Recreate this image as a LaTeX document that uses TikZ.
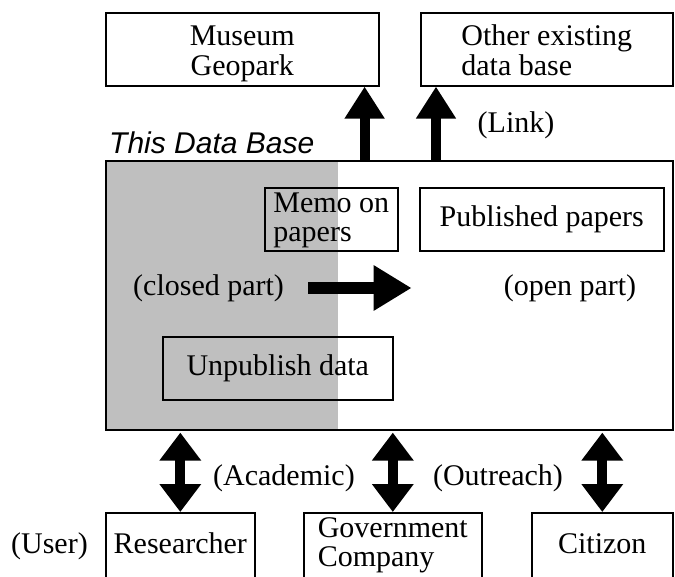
\documentclass[tikz,border=0pt]{standalone}
\usepackage{fontspec}
\setmainfont{Liberation Serif}
\newfontfamily\headfont{Liberation Sans}
\usetikzlibrary{arrows.meta}

\begin{document}
\begin{tikzpicture}[x=1pt,y=-1pt,
	font=\fontsize{30}{29}\selectfont,
	box/.style={draw,line width=1.6pt,inner sep=0pt},
	linkarrow/.style={line width=10pt,-{Triangle[length=32pt,width=38pt]}},
	usearrow/.style={line width=10pt,{Triangle[length=28pt,width=40pt]}-{Triangle[length=28pt,width=40pt]}},
	openarrow/.style={line width=12pt,-{Triangle[length=38pt,width=43pt]}}]
	\useasboundingbox (0,0) rectangle (675,576);
	\clip (0,0) rectangle (675,576);
	\node[box,minimum width=273pt,text height=33pt,text depth=40pt,anchor=north west] (museum) at (105,12) {\begin{tabular}[t]{@{}c@{}}Museum\\Geopark\end{tabular}};
	\node[box,minimum width=252pt,text height=33pt,text depth=40pt,anchor=north west] (other) at (420,12) {\begin{tabular}[t]{@{}l@{}}Other existing\\data base\end{tabular}};
	\fill[black!25] (105,160) rectangle (338,429);
	\node[box,minimum width=567pt,minimum height=269pt,anchor=north west] (db) at (105,160) {};
	\node[anchor=base west,inner sep=0pt,font=\fontsize{30}{29}\headfont\itshape] (dbname) at (109,153) {This Data Base};
	\node[box,minimum width=133pt,text height=25pt,text depth=38pt,anchor=north west] (memo) at (264,187) {\begin{tabular}[t]{@{}l@{}}Memo on\\papers\end{tabular}};
	\node[box,minimum width=244pt,minimum height=63pt,anchor=north west] (published) at (419,187) {Published papers};
	\node[box,minimum width=230pt,minimum height=63pt,anchor=north west] (unpublish) at (162,336) {Unpublish data};
	\node[anchor=west,inner sep=0pt] (closed) at (133,288) {(closed part)};
	\node[inner sep=0pt] (open) at (570,288) {(open part)};
	\draw[openarrow,shorten <=24pt,shorten >=92pt] (closed.east) -- (open.west);
	\node[inner sep=0pt] (link) at (516,125) {(Link)};
	\coordinate (tomuseum) at ([xshift=-15pt]museum.south east);
	\coordinate (toother) at ([xshift=16pt]other.south west);
	\draw[linkarrow] (tomuseum |- db.north) -- (tomuseum);
	\draw[linkarrow] (toother |- db.north) -- (toother);
	\node[box,minimum width=149pt,text height=41pt,text depth=40pt,anchor=north west] (researcher) at (105,512) {Researcher};
	\node[box,minimum width=178pt,text height=25pt,text depth=55pt,anchor=north west] (government) at (303,512) {\begin{tabular}[t]{@{}l@{}}Government\\Company\end{tabular}};
	\node[box,minimum width=141pt,text height=41pt,text depth=40pt,anchor=north west] (citizon) at (531,512) {Citizon};
	\node[anchor=base east,inner sep=0pt] (user) at ([xshift=-17pt]researcher.base west) {(User)};
	\node[anchor=west,inner sep=0pt] (academic) at (213,478) {(Academic)};
	\node[inner sep=0pt] (outreach) at (498,478) {(Outreach)};
	\draw[usearrow,shorten <=2pt] (researcher.north |- db.south) -- (researcher.north);
	\draw[usearrow,shorten <=2pt] (government.north |- db.south) -- (government.north);
	\draw[usearrow,shorten <=2pt] (citizon.north |- db.south) -- (citizon.north);
\end{tikzpicture}
\end{document}
